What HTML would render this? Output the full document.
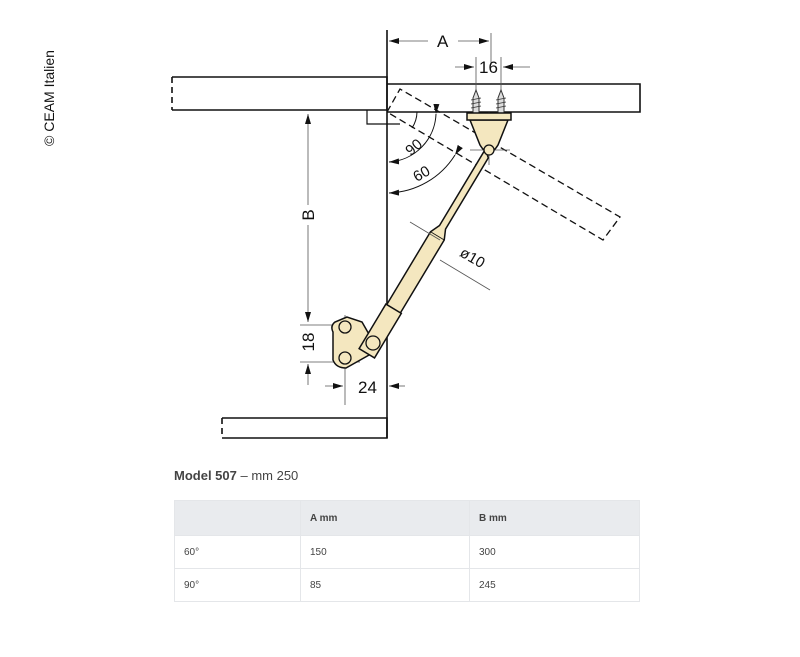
<!DOCTYPE html>
<html><head><meta charset="utf-8"><style>
body{margin:0;background:#fff;width:800px;height:657px;overflow:hidden;position:relative;font-family:"Liberation Sans",sans-serif}
.copy{position:absolute;left:49px;top:98px;transform:translate(-50%,-50%) rotate(-90deg);font-size:14px;white-space:nowrap;color:#111}
.title{position:absolute;left:174px;top:468px;font-size:13px;color:#444}
table{position:absolute;left:174px;top:500px;width:466px;border-collapse:collapse;font-size:10px;color:#444}
td{border:1px solid #e4e6e9;height:33px;padding:0 0 0 9px;box-sizing:border-box}
tr.h td{background:#e9ebee;font-weight:bold;height:35px}
</style></head><body>
<div class="copy">© CEAM Italien</div>
<svg width="800" height="460" style="position:absolute;left:0;top:0" font-family="Liberation Sans, sans-serif">
<defs><marker id="ar" markerWidth="10" markerHeight="6" refX="10" refY="3" orient="auto" markerUnits="userSpaceOnUse"><path d="M0,0L10,3L0,6z" fill="#111"/></marker></defs>
<g fill="none" stroke="#111" stroke-width="1.6">
<path d="M172,77H387V110H172"/><path d="M172,77V110" stroke-dasharray="6,4"/>
<path d="M387,84H640V112H387"/>
<path d="M387,30V438"/>
<path d="M222,418H387V438H222"/><path d="M222,418V438" stroke-dasharray="6,4"/>
<path d="M367,110V124H400" stroke-width="1.2"/>
<path d="M387,112L400,89L620,217L603,240Z" stroke-dasharray="7,4" stroke-width="1.3"/>
</g>
<g fill="none" stroke="#111" stroke-width="1">
<path d="M417,112A30,30 0 0 1 412,128"/>
<path d="M436,114A50,50 0 0 1 389,162" marker-end="url(#ar)" marker-start="url(#ar)"/>
<path d="M455,155A81,81 0 0 1 389,193" marker-end="url(#ar)" marker-start="url(#ar)"/>
</g>
<g stroke="#555" stroke-width="0.8" fill="none">
<path d="M491,33V65M476,57V100M501,57V100M489,112V165M470,150H510"/>
<path d="M428,41H389" marker-end="url(#ar)"/>
<path d="M458,41H489" marker-end="url(#ar)"/>
<path d="M455,67H474" marker-end="url(#ar)"/><path d="M530,67H503" marker-end="url(#ar)"/>
<path d="M308,205V114" marker-end="url(#ar)"/><path d="M308,225V322" marker-end="url(#ar)"/>
<path d="M300,325H360M300,362H360M345,315V405"/>
<path d="M308,385V364" marker-end="url(#ar)"/>
<path d="M325,386H343" marker-end="url(#ar)"/><path d="M405,386H389" marker-end="url(#ar)"/>
</g>
<g font-size="17" fill="#111">
<text x="437" y="47">A</text><text x="479" y="73">16</text>
<text x="358" y="393">24</text>
<text transform="translate(314,215) rotate(-90)" text-anchor="middle">B</text>
<text transform="translate(314,342) rotate(-90)" text-anchor="middle">18</text>
<text transform="translate(417,151) rotate(-40)" text-anchor="middle" font-size="15">90</text>
<text transform="translate(424,178) rotate(-30)" text-anchor="middle" font-size="15">60</text>
<text transform="translate(470,262) rotate(30)" text-anchor="middle" font-size="15">ø10</text>
</g>
<g stroke="#333" stroke-width="1" fill="#ddd">
<path d="M473,113V98L476,90L479,98V113Z"/><path d="M498,113V98L501,90L504,98V113Z"/>
</g>
<g stroke="#333" stroke-width="0.8"><path d="M471,100l10,-2M471,104l10,-2M471,108l10,-2M496,100l10,-2M496,104l10,-2M496,108l10,-2"/></g>
<g fill="#f4e7bf" stroke="#111" stroke-width="1.5">
<path d="M470,120H508L498,145Q489,160 480,145Z"/>
<rect x="467" y="113" width="44" height="7"/>
</g>
<g transform="translate(373,343) rotate(-59)" fill="#f4e7bf" stroke="#111" stroke-width="1.5">
<path d="M135,-3.5L125,-8H-10V8H125L135,3.5H218L224,-3.5Z"/>
<path d="M125,-8V8" stroke-width="0.8"/>
</g>
<path d="M347,317L335,322Q330,326 333,332L333,360Q336,368 346,368L378,350L362,322Z" fill="#f4e7bf" stroke="#111" stroke-width="1.5"/>
<g transform="translate(373,343) rotate(-59)" fill="#f4e7bf" stroke="#111" stroke-width="1.5">
<path d="M-12,-9H40V9H-12Z"/>
</g>
<g fill="#f4e7bf" stroke="#111" stroke-width="1.3">
<circle cx="345" cy="327" r="6"/><circle cx="345" cy="358" r="6"/><circle cx="373" cy="343" r="7"/>
<circle cx="489" cy="150" r="5"/>
</g>
<g stroke="#555" stroke-width="0.8"><path d="M410,222l30,18M440,260l50,30"/></g>
</svg>
<div class="title"><b>Model 507</b> – mm 250</div>
<table>
<tr class="h"><td style="width:126px"></td><td style="width:169px">A mm</td><td>B mm</td></tr>
<tr><td>60°</td><td>150</td><td>300</td></tr>
<tr><td>90°</td><td>85</td><td>245</td></tr>
</table>
</body></html>
